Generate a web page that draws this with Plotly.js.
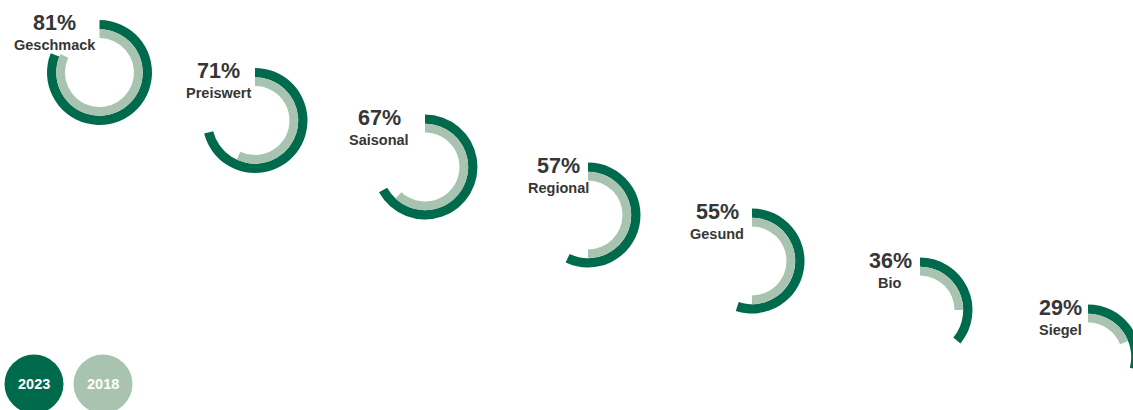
<!DOCTYPE html>
<html>
<head>
<meta charset="utf-8">
<script src="https://cdn.plot.ly/plotly-3.0.1.min.js"></script>
<style>
  html, body { margin: 0; padding: 0; background: #ffffff; overflow: hidden; width: 1133px; height: 410px; }
  #chart { width: 1150px; height: 410px; }
</style>
</head>
<body>
<div id="chart"></div>
<script>
// ---- data ----
const categories = ["Geschmack", "Preiswert", "Saisonal", "Regional", "Gesund", "Bio", "Siegel"];
const values2023 = [81, 71, 67, 57, 55, 36, 29];
const values2018 = [82, 57, 62, 50, 50, 25, 19];
const seriesNames = ["2023", "2018"];

// ---- layout / styling ----
const W = 1150, H = 410;
const centersX = [99.5, 255, 425, 588, 752, 920, 1088];
const centersY = [72.5, 120.5, 167, 215, 261, 310, 357];
const labelDX = [-45, -37, -46, -30, -35, -30, -28];
const rOuter = 52.5, rMid = 43.2, rInner = 34.5;
const darkGreen = "#006a4c";
const lightGreen = "#a8c4b1";
const textColor = "#363636";
const FONT = "Liberation Sans, Arial, sans-serif";

function domainFor(cx, cy, r) {
  return {
    x: [(cx - r) / W, (cx + r) / W],
    y: [1 - (cy + r) / H, 1 - (cy - r) / H]
  };
}

const traces = [];
const annotations = [];
categories.forEach((cat, i) => {
  const cx = centersX[i], cy = centersY[i];
  traces.push({
    type: "pie",
    values: [values2023[i], 100 - values2023[i]],
    marker: { colors: [darkGreen, "rgba(0,0,0,0)"], line: { width: 0 } },
    hole: rMid / rOuter,
    sort: false,
    direction: "clockwise",
    rotation: 0,
    textinfo: "none",
    hoverinfo: "skip",
    showlegend: false,
    domain: domainFor(cx, cy, rOuter)
  });
  traces.push({
    type: "pie",
    values: [values2018[i], 100 - values2018[i]],
    marker: { colors: [lightGreen, "rgba(0,0,0,0)"], line: { width: 0 } },
    hole: rInner / rMid,
    sort: false,
    direction: "clockwise",
    rotation: 0,
    textinfo: "none",
    hoverinfo: "skip",
    showlegend: false,
    domain: domainFor(cx, cy, rMid)
  });
  annotations.push({
    xref: "paper", yref: "paper",
    x: (cx + labelDX[i]) / W, y: 1 - (cy - 49.5) / H,
    xanchor: "center", yanchor: "middle",
    text: "<b>" + values2023[i] + "%</b>",
    showarrow: false,
    font: { family: FONT, size: 21.5, color: textColor }
  });
  annotations.push({
    xref: "paper", yref: "paper",
    x: (cx + labelDX[i]) / W, y: 1 - (cy - 27) / H,
    xanchor: "center", yanchor: "middle",
    text: "<b>" + cat + "</b>",
    showarrow: false,
    font: { family: FONT, size: 14.5, color: textColor }
  });
});

// legend circles
const legendX = [34, 103], legendY = 384, legendR = 29.5;
const legendColors = [darkGreen, lightGreen];
const shapes = [];
seriesNames.forEach((name, k) => {
  shapes.push({
    type: "circle", xref: "paper", yref: "paper",
    x0: (legendX[k] - legendR) / W, x1: (legendX[k] + legendR) / W,
    y0: 1 - (legendY + legendR) / H, y1: 1 - (legendY - legendR) / H,
    fillcolor: legendColors[k], line: { width: 0 }, layer: "below"
  });
  annotations.push({
    xref: "paper", yref: "paper",
    x: legendX[k] / W, y: 1 - legendY / H,
    xanchor: "center", yanchor: "middle",
    text: "<b>" + name + "</b>",
    showarrow: false,
    font: { family: FONT, size: 14.5, color: "#ffffff" }
  });
});

const layout = {
  width: W, height: H,
  margin: { l: 0, r: 0, t: 0, b: 0, pad: 0 },
  paper_bgcolor: "#ffffff",
  plot_bgcolor: "#ffffff",
  showlegend: false,
  annotations: annotations,
  shapes: shapes
};

Plotly.newPlot("chart", traces, layout, { displayModeBar: false, staticPlot: true });
</script>
</body>
</html>
